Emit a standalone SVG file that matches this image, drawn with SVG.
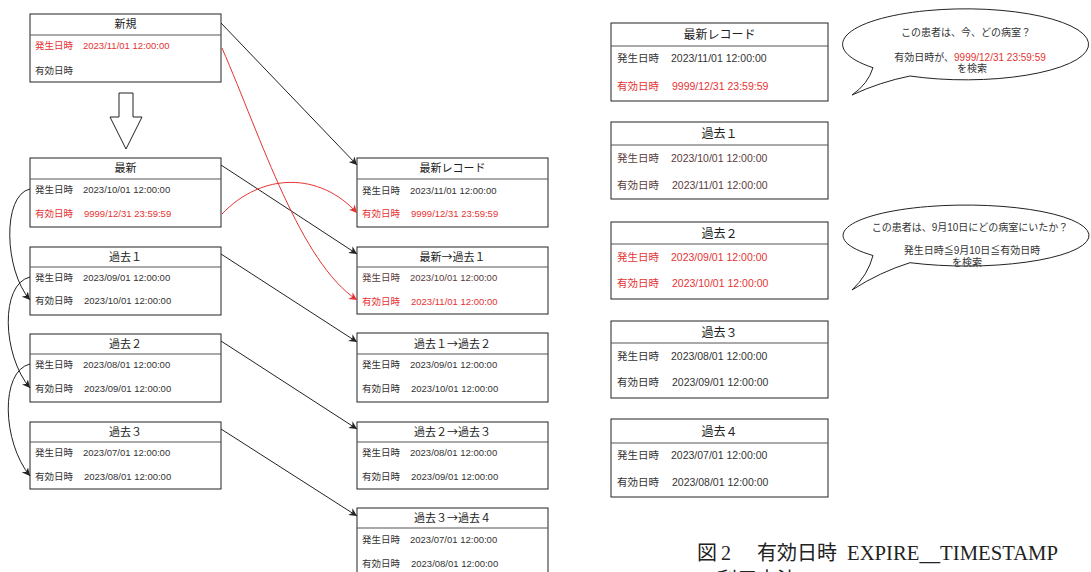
<svg xmlns="http://www.w3.org/2000/svg" width="1091" height="572" viewBox="0 0 1091 572">
<style>
.box{fill:#fff;stroke:#222;stroke-width:1}
.div{stroke:#555;stroke-width:1}
.t{font-family:"Liberation Sans","Noto Sans CJK JP",sans-serif;fill:#333}
.h{font-family:"Noto Sans CJK JP","Liberation Sans",sans-serif;font-size:11px;fill:#222;text-anchor:middle}
.hr{font-family:"Noto Sans CJK JP","Liberation Sans",sans-serif;font-size:12px;fill:#222;text-anchor:middle}
.r{font-size:9.5px}
.rr{font-size:10.5px}
.red{fill:#e53333}
.br{fill:#5a3c3c}
.b{font-size:10px;text-anchor:middle}
.cb{fill:none;stroke:#222;stroke-width:1}
.cr{fill:none;stroke:#e53333;stroke-width:1}
.cap{font-family:"Liberation Serif","Noto Sans CJK JP",serif;font-size:20px;fill:#222}
</style>
<defs>
<marker id="ab" viewBox="0 0 10 10" refX="10" refY="5" markerWidth="8" markerHeight="8" markerUnits="userSpaceOnUse" orient="auto"><path d="M0,0 L10,5 L0,10 L3,5 Z" fill="#222"/></marker>
<marker id="ar" viewBox="0 0 10 10" refX="10" refY="5" markerWidth="8" markerHeight="8" markerUnits="userSpaceOnUse" orient="auto"><path d="M0,0 L10,5 L0,10 L3,5 Z" fill="#e53333"/></marker>
</defs>
<rect width="1091" height="572" fill="#fff"/>

<!-- left column -->
<g id="shinki">
<rect class="box" x="30" y="14" width="191" height="68"/><line class="div" x1="30" y1="35" x2="221" y2="35"/>
<text class="t h" x="125.5" y="28">新規</text>
<text class="t r red" x="35" y="48.5">発生日時</text><text class="t r red" x="83" y="48.5">2023/11/01 12:00:00</text>
<text class="t r" x="35" y="73.5">有効日時</text>
</g>
<g id="bigarrow"><polygon points="119,93 133,93 133,117 142,117 126,149 110,117 119,117" fill="#fff" stroke="#222" stroke-width="1"/></g>
<g id="saishin">
<rect class="box" x="30" y="158" width="191" height="69"/><line class="div" x1="30" y1="179" x2="221" y2="179"/>
<text class="t h" x="125.5" y="172">最新</text>
<text class="t r" x="35" y="192.5">発生日時</text><text class="t r" x="83" y="192.5">2023/10/01 12:00:00</text>
<text class="t r red" x="35" y="216.5">有効日時</text><text class="t r red" x="84" y="216.5">9999/12/31 23:59:59</text>
</g>
<g id="kako1">
<rect class="box" x="30" y="247" width="191" height="68"/><line class="div" x1="30" y1="267" x2="221" y2="267"/>
<text class="t h" x="125.5" y="261">過去１</text>
<text class="t r" x="35" y="280.5">発生日時</text><text class="t r" x="83" y="280.5">2023/09/01 12:00:00</text>
<text class="t r" x="35" y="303.5">有効日時</text><text class="t r" x="84" y="303.5">2023/10/01 12:00:00</text>
</g>
<g id="kako2">
<rect class="box" x="30" y="334" width="191" height="68"/><line class="div" x1="30" y1="354" x2="221" y2="354"/>
<text class="t h" x="125.5" y="348">過去２</text>
<text class="t r" x="35" y="367.5">発生日時</text><text class="t r" x="83" y="367.5">2023/08/01 12:00:00</text>
<text class="t r" x="35" y="391.5">有効日時</text><text class="t r" x="84" y="391.5">2023/09/01 12:00:00</text>
</g>
<g id="kako3">
<rect class="box" x="30" y="422" width="191" height="67"/><line class="div" x1="30" y1="442" x2="221" y2="442"/>
<text class="t h" x="125.5" y="436">過去３</text>
<text class="t r" x="35" y="455.5">発生日時</text><text class="t r" x="83" y="455.5">2023/07/01 12:00:00</text>
<text class="t r" x="35" y="479.5">有効日時</text><text class="t r" x="84" y="479.5">2023/08/01 12:00:00</text>
</g>

<!-- middle column -->
<g id="m-saishin">
<rect class="box" x="357" y="158" width="191" height="69"/><line class="div" x1="357" y1="179" x2="548" y2="179"/>
<text class="t h" x="452.5" y="172">最新レコード</text>
<text class="t r" x="362" y="194">発生日時</text><text class="t r" x="410" y="194">2023/11/01 12:00:00</text>
<text class="t r red" x="362" y="216.5">有効日時</text><text class="t r red" x="411" y="216.5">9999/12/31 23:59:59</text>
</g>
<g id="m-kako1">
<rect class="box" x="357" y="247" width="191" height="67"/><line class="div" x1="357" y1="267" x2="548" y2="267"/>
<text class="t h" x="452.5" y="261">最新→過去１</text>
<text class="t r br" x="362" y="280.5">発生日時</text><text class="t r br" x="410" y="280.5">2023/10/01 12:00:00</text>
<text class="t r red" x="362" y="304.5">有効日時</text><text class="t r red" x="411" y="304.5">2023/11/01 12:00:00</text>
</g>
<g id="m-kako2">
<rect class="box" x="357" y="333" width="191" height="69"/><line class="div" x1="357" y1="354" x2="548" y2="354"/>
<text class="t h" x="452.5" y="348">過去１→過去２</text>
<text class="t r" x="362" y="367.5">発生日時</text><text class="t r" x="410" y="367.5">2023/09/01 12:00:00</text>
<text class="t r" x="362" y="391.5">有効日時</text><text class="t r" x="411" y="391.5">2023/10/01 12:00:00</text>
</g>
<g id="m-kako3">
<rect class="box" x="357" y="422" width="191" height="67"/><line class="div" x1="357" y1="442" x2="548" y2="442"/>
<text class="t h" x="452.5" y="436">過去２→過去３</text>
<text class="t r" x="362" y="455.5">発生日時</text><text class="t r" x="410" y="455.5">2023/08/01 12:00:00</text>
<text class="t r" x="362" y="479.5">有効日時</text><text class="t r" x="411" y="479.5">2023/09/01 12:00:00</text>
</g>
<g id="m-kako4">
<rect class="box" x="357" y="508" width="191" height="68"/><line class="div" x1="357" y1="528" x2="548" y2="528"/>
<text class="t h" x="452.5" y="522">過去３→過去４</text>
<text class="t r" x="362" y="542.5">発生日時</text><text class="t r" x="410" y="542.5">2023/07/01 12:00:00</text>
<text class="t r" x="362" y="566.5">有効日時</text><text class="t r" x="411" y="566.5">2023/08/01 12:00:00</text>
</g>

<!-- right column -->
<g id="r-saishin">
<rect class="box" x="611" y="23" width="217" height="78"/><line class="div" x1="611" y1="46" x2="828" y2="46"/>
<text class="t hr" x="719.5" y="39">最新レコード</text>
<text class="t rr" x="617" y="62">発生日時</text><text class="t rr" x="671" y="62">2023/11/01 12:00:00</text>
<text class="t rr red" x="617" y="90">有効日時</text><text class="t rr red" x="672" y="90">9999/12/31 23:59:59</text>
</g>
<g id="r-kako1">
<rect class="box" x="611" y="122" width="217" height="77"/><line class="div" x1="611" y1="145" x2="828" y2="145"/>
<text class="t hr" x="719.5" y="138">過去１</text>
<text class="t rr br" x="617" y="162">発生日時</text><text class="t rr br" x="671" y="162">2023/10/01 12:00:00</text>
<text class="t rr br" x="617" y="189">有効日時</text><text class="t rr br" x="672" y="189">2023/11/01 12:00:00</text>
</g>
<g id="r-kako2">
<rect class="box" x="611" y="222" width="217" height="77"/><line class="div" x1="611" y1="244" x2="828" y2="244"/>
<text class="t hr" x="719.5" y="238">過去２</text>
<text class="t rr red" x="617" y="261">発生日時</text><text class="t rr red" x="671" y="261">2023/09/01 12:00:00</text>
<text class="t rr red" x="617" y="287">有効日時</text><text class="t rr red" x="672" y="287">2023/10/01 12:00:00</text>
</g>
<g id="r-kako3">
<rect class="box" x="611" y="321" width="217" height="77"/><line class="div" x1="611" y1="343" x2="828" y2="343"/>
<text class="t hr" x="719.5" y="337">過去３</text>
<text class="t rr" x="617" y="360">発生日時</text><text class="t rr" x="671" y="360">2023/08/01 12:00:00</text>
<text class="t rr" x="617" y="386">有効日時</text><text class="t rr" x="672" y="386">2023/09/01 12:00:00</text>
</g>
<g id="r-kako4">
<rect class="box" x="611" y="419" width="217" height="78"/><line class="div" x1="611" y1="443" x2="828" y2="443"/>
<text class="t hr" x="719.5" y="436">過去４</text>
<text class="t rr" x="617" y="459">発生日時</text><text class="t rr" x="671" y="459">2023/07/01 12:00:00</text>
<text class="t rr" x="617" y="486">有効日時</text><text class="t rr" x="672" y="486">2023/08/01 12:00:00</text>
</g>

<!-- callouts -->
<g id="callout1">
<path d="M873,67.7 A123,35.5 0 1 1 910,76 Q880,82 852,95 Q868,84 873,67.7 Z" fill="#fff" stroke="#222" stroke-width="1"/>
<text class="t b" x="966" y="35.5">この患者は、今、どの病室？</text>
<text class="t b" x="970" y="60.5">有効日時が、<tspan class="red">9999/12/31 23:59:59</tspan></text>
<text class="t b" x="972" y="72">を検索</text>
</g>
<g id="callout2">
<path d="M873,255.5 A123,30.5 0 1 1 910,262.7 Q880,272 852,290 Q868,275 873,255.5 Z" fill="#fff" stroke="#222" stroke-width="1"/>
<text class="t b" x="970" y="230.5">この患者は、9月10日にどの病室にいたか？</text>
<text class="t b" x="972" y="254">発生日時≦9月10日≦有効日時</text>
<text class="t b" x="967" y="265.5">を検索</text>
</g>

<!-- connectors -->
<g id="connectors">
<path class="cb" d="M221,23 L357,165" marker-end="url(#ab)"/>
<path class="cb" d="M221,165 L357,254" marker-end="url(#ab)"/>
<path class="cb" d="M221,254 L357,342" marker-end="url(#ab)"/>
<path class="cb" d="M221,341 L357,429" marker-end="url(#ab)"/>
<path class="cb" d="M221,429 L357,516" marker-end="url(#ab)"/>
<path class="cr" d="M222,48 C262,140 300,262 357,300" marker-end="url(#ar)"/>
<path class="cr" d="M222,214 C262,172 320,172 357,213" marker-end="url(#ar)"/>
<path class="cb" d="M30,189 C2,195 4,270 30,300" marker-end="url(#ab)"/>
<path class="cb" d="M30,277 C0,284 2,355 30,388" marker-end="url(#ab)"/>
<path class="cb" d="M30,364 C0,371 2,442 30,476" marker-end="url(#ab)"/>
</g>

<!-- caption -->
<g id="caption">
<text class="cap" x="697" y="560">図<tspan dx="4">2</tspan></text>
<text class="cap" x="757" y="560">有効日時</text>
<text class="cap" x="847" y="560" textLength="211" lengthAdjust="spacingAndGlyphs">EXPIRE__TIMESTAMP</text>
<text class="cap" x="717" y="587">利用方法</text>
</g>
</svg>
